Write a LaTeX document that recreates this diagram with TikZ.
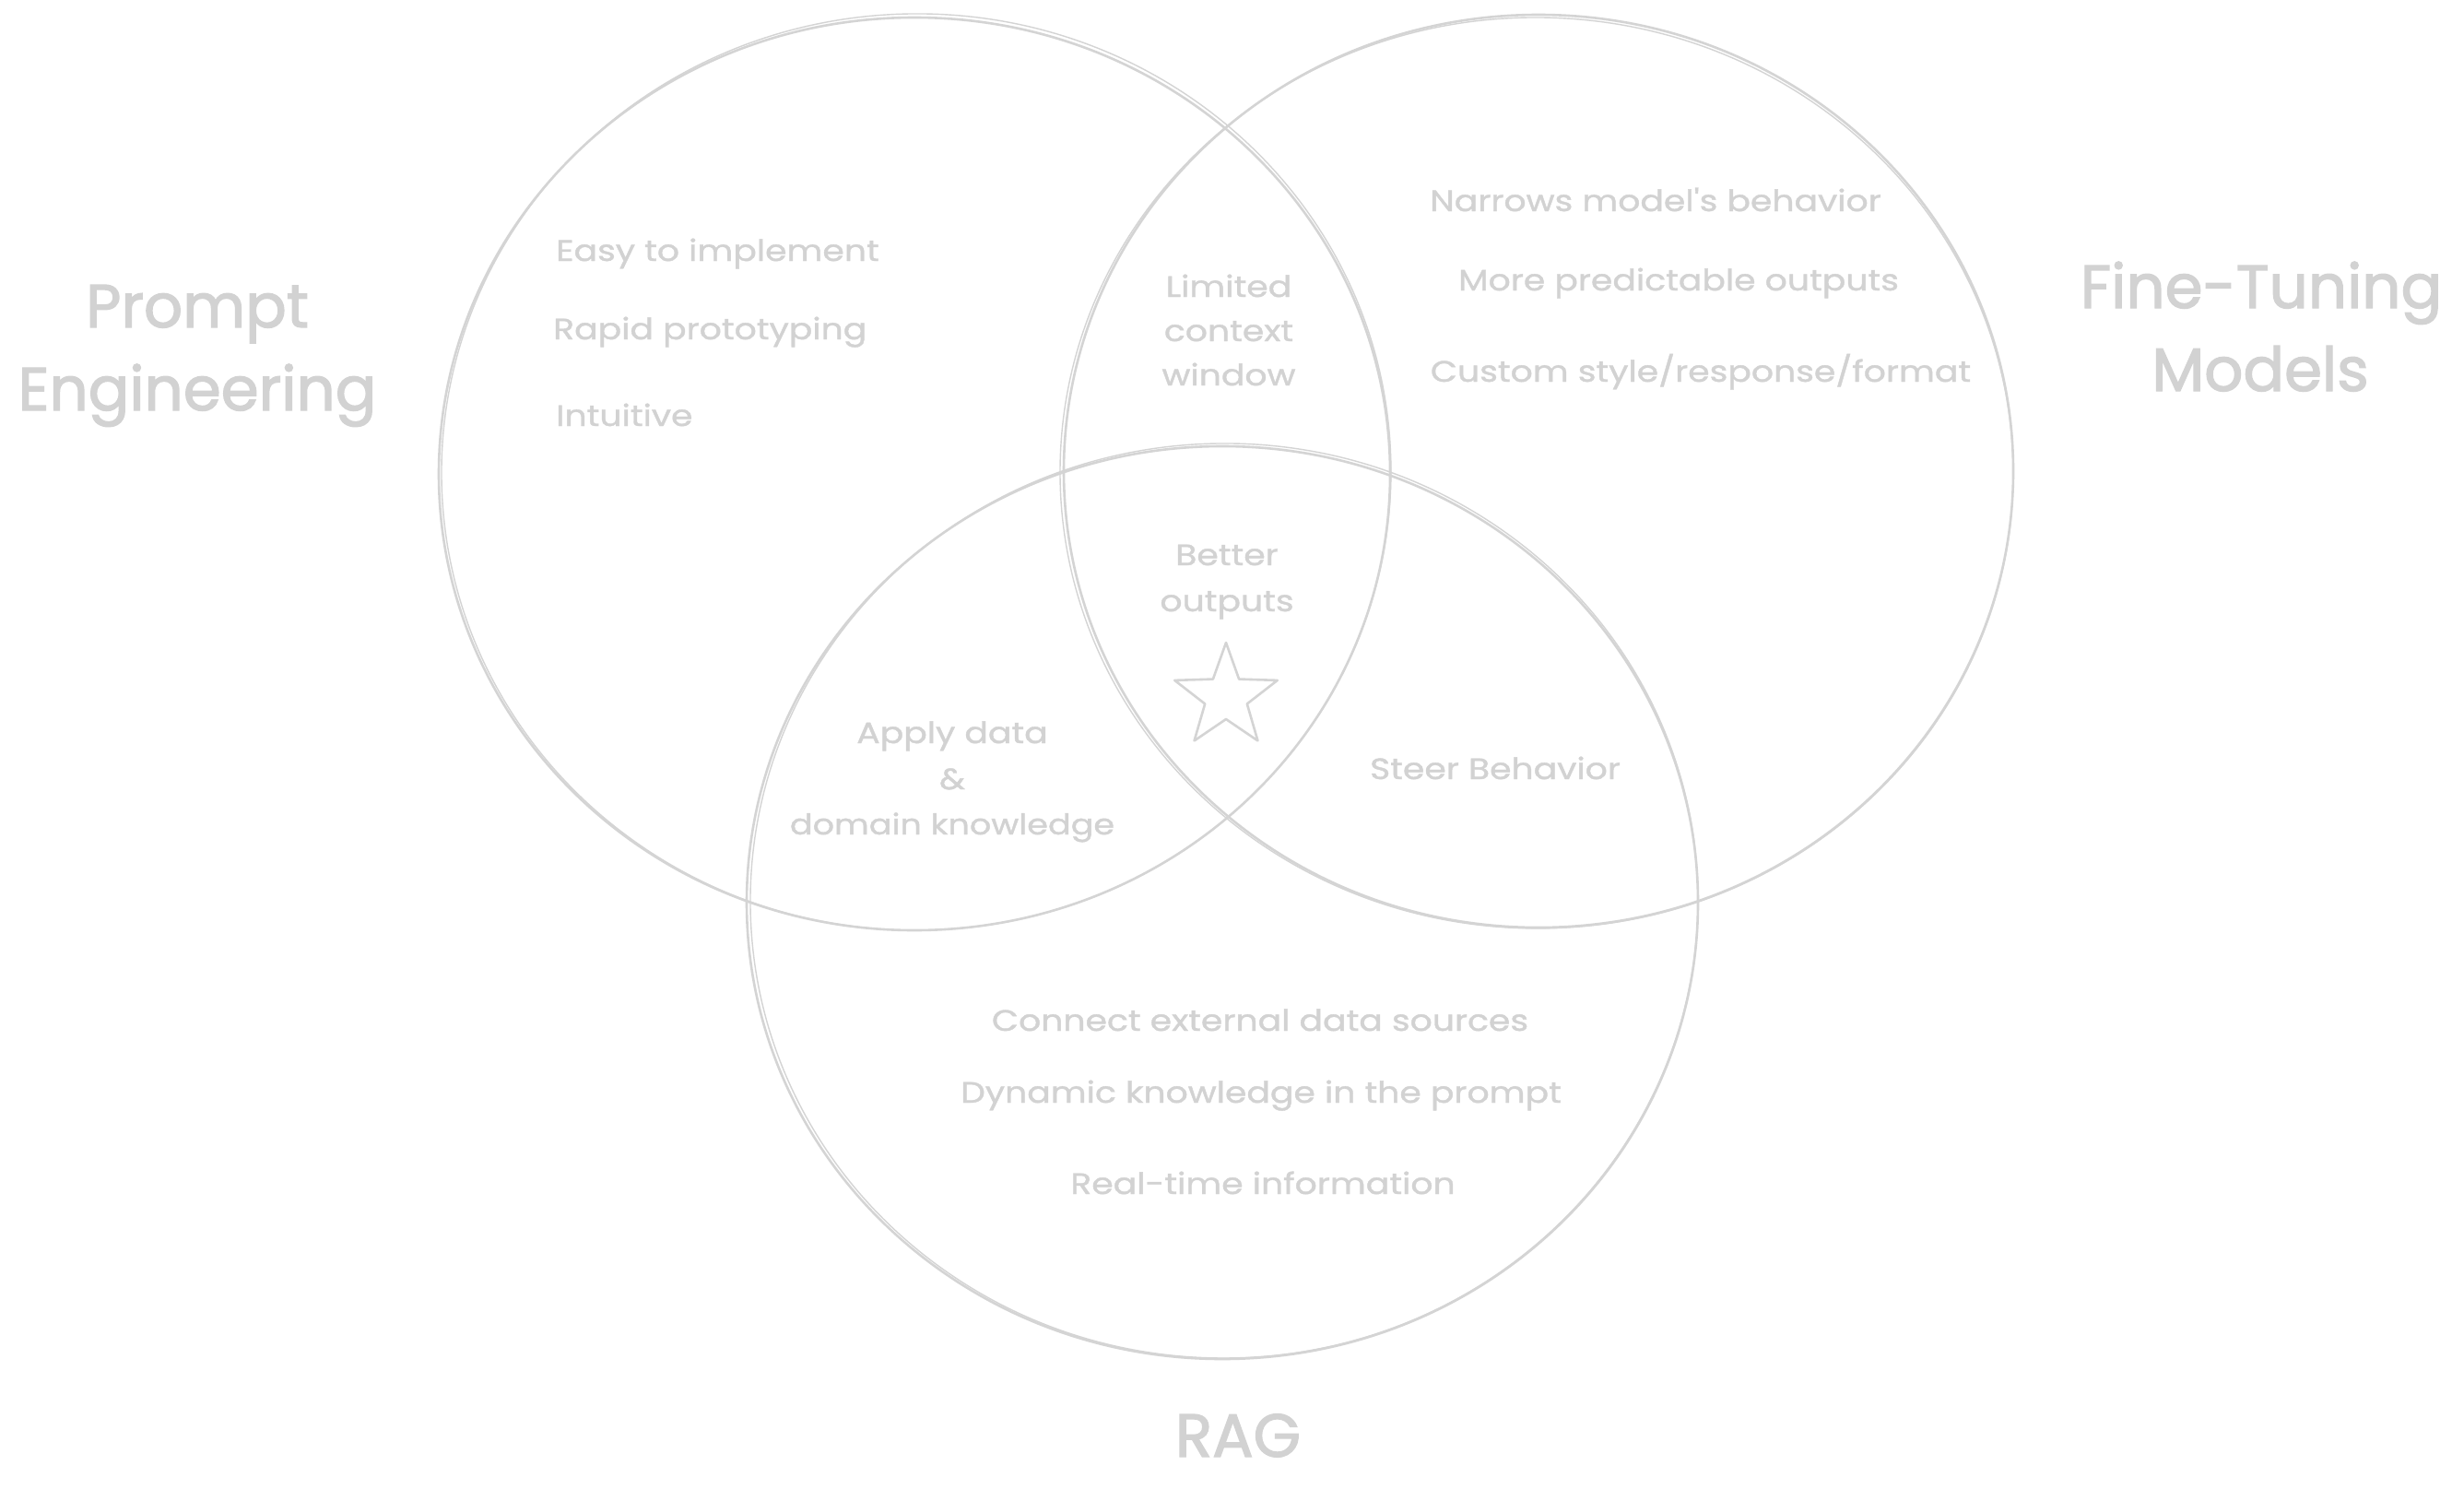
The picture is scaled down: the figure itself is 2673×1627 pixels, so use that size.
\documentclass[tikz,border=0pt]{standalone}
\usepackage{fontspec}
\newfontfamily\hand[FakeStretch=1.18,FakeBold=1.2]{Poppins}
\newfontfamily\handtitle[FakeBold=2]{Poppins}
\definecolor{ink}{HTML}{D2D2D2}
\definecolor{line}{HTML}{D4D4D4}
\begin{document}
\begin{tikzpicture}[x=1pt,y=-1pt,
  ring/.style={draw=line,line width=2.6pt},
  ringb/.style={draw=line,line width=1.4pt},
  item/.style={text=ink,inner sep=0pt,anchor=base,font=\hand\fontsize{32}{40}\selectfont},
  title/.style={text=ink,inner sep=0pt,anchor=base,font=\handtitle\fontsize{66}{74}\selectfont},
  starshape/.style={draw=line,line width=2.6pt,line join=round}]
\useasboundingbox[fill=white] (0,0) rectangle (2673,1627);

% three overlapping sets, each traced twice for a sketched look
\draw[ring] (992,514) ellipse [x radius=516,y radius=495];
\draw[ringb,rotate around={1.5:(992,514)}] (994,512) ellipse [x radius=515,y radius=497];
\draw[ring] (1669,511) ellipse [x radius=515,y radius=495];
\draw[ringb,rotate around={-1.2:(1669,511)}] (1667,513) ellipse [x radius=517,y radius=494];
\draw[ring] (1326,979) ellipse [x radius=516,y radius=495];
\draw[ringb,rotate around={1:(1326,979)}] (1328,977) ellipse [x radius=514,y radius=496];

% set titles
\node[title] (pe1) at (214,355) {Prompt};
\node[title] (pe2) at (214,445) {Engineering};
\node[title] (ft1) at (2453,334) {Fine-Tuning};
\node[title] (ft2) at (2452,424) {Models};
\node[title] (rag) at (1343,1580) {RAG};

% prompt engineering only
\node[item,anchor=base west] (pe-a) at (603,283) {Easy to implement};
\node[item,anchor=base west] (pe-b) at (600,368) {Rapid prototyping};
\node[item,anchor=base west] (pe-c) at (603,462) {Intuitive};

% fine-tuning only
\node[item] (ft-a) at (1796,229) {Narrows model's behavior};
\node[item] (ft-b) at (1821,315) {More predictable outputs};
\node[item] (ft-c) at (1845,414) {Custom style/response/format};

% RAG only
\node[item] (rg-a) at (1367,1118) {Connect external data sources};
\node[item] (rg-b) at (1368,1196) {Dynamic knowledge in the prompt};
\node[item] (rg-c) at (1370,1295) {Real-time information};

% pairwise overlaps
\node[item] (lc1) at (1333,322) {Limited};
\node[item] (lc2) at (1333,370) {context};
\node[item] (lc3) at (1333,418) {window};
\node[item] (ad1) at (1033,806) {Apply data};
\node[item] (ad2) at (1033,856) {\&};
\node[item,font=\hand\fontsize{31}{40}\selectfont] (ad3) at (1033,905) {domain knowledge};
\node[item] (sb) at (1622,845) {Steer Behavior};

% centre
\node[item] (bo1) at (1331,613) {Better};
\node[item] (bo2) at (1331,663) {outputs};
\draw[starshape] (1330,697)
  \foreach \k in {1,...,9} {
    -- ({1330+(mod(\k,2)==0 ? 58.6 : 24)*sin(36*\k)},{756-(mod(\k,2)==0 ? 58.6 : 24)*cos(36*\k)})
  } -- cycle;
\end{tikzpicture}
\end{document}
